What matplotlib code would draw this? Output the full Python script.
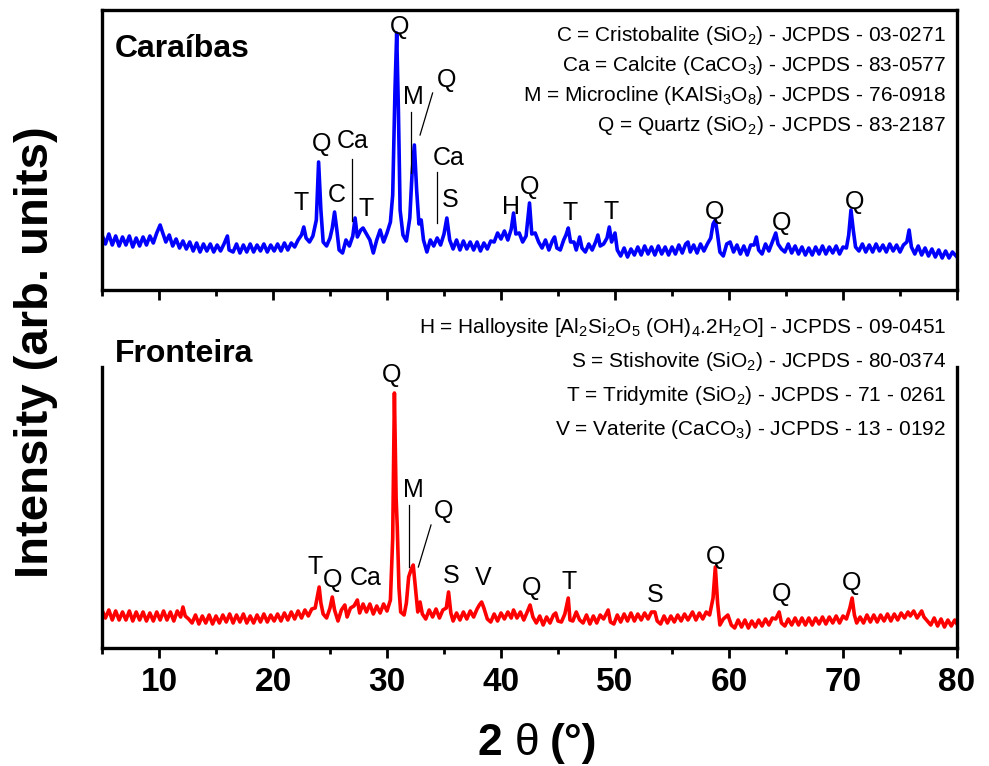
import matplotlib
matplotlib.use("Agg")
import matplotlib.pyplot as plt
from matplotlib.ticker import MultipleLocator

plt.rcParams['font.family'] = ['Liberation Sans', 'DejaVu Sans']
plt.rcParams['mathtext.fontset'] = 'custom'
plt.rcParams['mathtext.rm'] = 'Liberation Sans'
plt.rcParams['mathtext.it'] = 'Liberation Sans:italic'
plt.rcParams['mathtext.bf'] = 'Liberation Sans:bold'

# ---------------- data ----------------
caraibas_x = [5.0, 5.3, 5.6, 5.9, 6.2, 6.5, 6.8, 7.1, 7.4, 7.7, 8.0, 8.3, 8.6, 8.9, 9.2, 9.5, 9.8, 10.1, 10.3, 10.6,
              10.9, 11.2, 11.5, 11.8, 12.1, 12.4, 12.7, 13.0, 13.3, 13.6, 13.9, 14.2, 14.5, 14.8, 15.1, 15.4, 15.7, 16.0, 16.15, 16.5,
              16.8, 17.1, 17.4, 17.7, 18.0, 18.3, 18.6, 18.9, 19.2, 19.5, 19.8, 20.1, 20.4, 20.7, 21.0, 21.3, 21.6, 21.9, 22.2, 22.5,
              22.7, 22.9, 23.2, 23.5, 23.8, 24.0, 24.2, 24.4, 24.7, 25.0, 25.2, 25.4, 25.6, 25.8, 26.1, 26.4, 26.7, 27.0, 27.2, 27.4,
              27.7, 27.9, 28.2, 28.5, 28.8, 29.1, 29.4, 29.7, 30.0, 30.3, 30.5, 30.7, 30.85, 31.0, 31.15, 31.4, 31.7, 32.0, 32.2, 32.4,
              32.6, 32.8, 33.0, 33.2, 33.5, 33.8, 34.1, 34.4, 34.7, 35.0, 35.25, 35.5, 35.8, 36.1, 36.4, 36.7, 37.0, 37.3, 37.6, 37.9,
              38.2, 38.5, 38.8, 39.1, 39.4, 39.7, 40.0, 40.3, 40.6, 40.9, 41.1, 41.3, 41.6, 41.9, 42.2, 42.5, 42.7, 43.0, 43.3, 43.6,
              43.9, 44.2, 44.5, 44.7, 44.9, 45.2, 45.5, 45.7, 45.9, 46.1, 46.4, 46.6, 46.9, 47.1, 47.4, 47.7, 48.0, 48.3, 48.5, 48.7,
              49.0, 49.3, 49.5, 49.7, 50.0, 50.2, 50.5, 50.8, 51.1, 51.4, 51.7, 52.0, 52.3, 52.6, 52.9, 53.2, 53.5, 53.8, 54.1, 54.4,
              54.7, 55.0, 55.3, 55.6, 55.9, 56.2, 56.4, 56.6, 56.9, 57.2, 57.5, 57.8, 58.1, 58.4, 58.6, 58.8, 59.0, 59.2, 59.5, 59.8,
              60.1, 60.4, 60.7, 61.0, 61.3, 61.6, 61.9, 62.2, 62.4, 62.6, 62.9, 63.2, 63.5, 63.8, 64.1, 64.3, 64.6, 64.9, 65.2, 65.5,
              65.8, 66.1, 66.4, 66.7, 67.0, 67.3, 67.6, 67.9, 68.2, 68.5, 68.8, 69.1, 69.4, 69.7, 70.0, 70.3, 70.5, 70.7, 70.9, 71.1,
              71.4, 71.7, 72.0, 72.3, 72.6, 72.9, 73.2, 73.5, 73.8, 74.1, 74.4, 74.7, 75.0, 75.3, 75.6, 75.8, 76.0, 76.3, 76.6, 76.9,
              77.2, 77.5, 77.8, 78.1, 78.4, 78.7, 79.0, 79.3, 79.6, 80.0]
caraibas_y = [55, 46, 56, 45, 54, 44, 53, 45, 54, 43, 52, 44, 53, 45, 54, 47, 57, 65, 58, 48,
              55, 44, 51, 42, 49, 41, 48, 39, 47, 38, 46, 39, 46, 38, 45, 39, 46, 54, 40, 38,
              46, 37, 45, 38, 46, 38, 45, 39, 46, 38, 45, 39, 46, 39, 47, 40, 47, 43, 50, 55,
              63, 52, 48, 54, 70, 128, 80, 48, 44, 52, 62, 78, 60, 40, 37, 50, 44, 54, 72, 53,
              60, 62, 56, 50, 37, 50, 60, 48, 57, 68, 95, 200, 257, 180, 80, 55, 49, 72, 117, 145,
              100, 66, 70, 50, 38, 50, 44, 52, 45, 56, 72, 50, 41, 50, 40, 49, 41, 48, 40, 48,
              39, 47, 41, 49, 48, 57, 51, 59, 50, 61, 77, 56, 57, 48, 54, 87, 56, 57, 48, 42,
              50, 40, 49, 53, 42, 40, 50, 55, 62, 48, 48, 40, 53, 42, 38, 46, 40, 48, 55, 44,
              46, 52, 63, 48, 57, 40, 34, 42, 33, 41, 35, 43, 35, 44, 36, 43, 35, 44, 36, 43,
              35, 43, 36, 45, 37, 46, 48, 38, 45, 37, 46, 39, 46, 52, 66, 70, 55, 38, 34, 46,
              48, 38, 45, 36, 44, 35, 45, 45, 53, 40, 36, 46, 39, 48, 57, 46, 41, 38, 46, 37,
              44, 36, 43, 35, 42, 35, 43, 36, 44, 36, 43, 37, 44, 36, 43, 42, 55, 80, 60, 43,
              39, 46, 38, 45, 38, 46, 39, 45, 38, 46, 39, 45, 38, 45, 48, 60, 43, 36, 44, 35,
              42, 34, 41, 33, 40, 32, 39, 32, 38, 33]

fronteira_x = [5.0, 5.3, 5.6, 5.9, 6.2, 6.5, 6.8, 7.1, 7.4, 7.7, 8.0, 8.3, 8.6, 8.9, 9.2, 9.5, 9.8, 10.1, 10.4, 10.7,
               11.0, 11.3, 11.6, 11.9, 12.1, 12.3, 12.6, 12.9, 13.2, 13.5, 13.8, 14.1, 14.4, 14.7, 15.0, 15.3, 15.6, 15.9, 16.2, 16.5,
               16.8, 17.1, 17.4, 17.7, 18.0, 18.3, 18.6, 18.9, 19.2, 19.5, 19.8, 20.1, 20.4, 20.7, 21.0, 21.3, 21.6, 21.9, 22.2, 22.5,
               22.8, 23.1, 23.4, 23.7, 23.9, 24.05, 24.2, 24.4, 24.7, 25.0, 25.2, 25.4, 25.7, 26.0, 26.3, 26.5, 26.8, 27.1, 27.4, 27.6,
               27.9, 28.2, 28.5, 28.8, 29.1, 29.4, 29.7, 30.0, 30.3, 30.5, 30.65, 30.8, 30.9, 31.05, 31.2, 31.5, 31.7, 31.9, 32.1, 32.3,
               32.5, 32.7, 32.9, 33.1, 33.4, 33.7, 34.0, 34.3, 34.6, 34.9, 35.2, 35.4, 35.6, 35.8, 36.1, 36.4, 36.7, 37.0, 37.3, 37.6,
               37.9, 38.1, 38.3, 38.5, 38.8, 39.1, 39.4, 39.7, 40.0, 40.3, 40.6, 40.9, 41.1, 41.4, 41.7, 42.0, 42.3, 42.55, 42.8, 43.1,
               43.4, 43.7, 44.0, 44.3, 44.6, 44.8, 45.0, 45.3, 45.6, 45.9, 46.05, 46.3, 46.6, 46.9, 47.2, 47.5, 47.8, 48.1, 48.4, 48.7,
               49.0, 49.4, 49.6, 49.9, 50.2, 50.5, 50.8, 51.1, 51.4, 51.7, 52.0, 52.3, 52.6, 52.9, 53.2, 53.5, 53.7, 54.0, 54.3, 54.6,
               54.9, 55.2, 55.5, 55.8, 56.1, 56.4, 56.8, 57.1, 57.4, 57.7, 58.0, 58.3, 58.6, 58.8, 59.0, 59.2, 59.5, 59.9, 60.2, 60.5,
               60.8, 61.1, 61.4, 61.7, 62.0, 62.3, 62.6, 62.9, 63.2, 63.5, 63.8, 64.1, 64.4, 64.6, 64.9, 65.2, 65.5, 65.8, 66.1, 66.4,
               66.7, 67.0, 67.3, 67.6, 67.9, 68.2, 68.5, 68.8, 69.1, 69.4, 69.7, 70.0, 70.3, 70.6, 70.8, 71.0, 71.2, 71.5, 71.8, 72.1,
               72.4, 72.7, 73.0, 73.3, 73.6, 73.9, 74.2, 74.5, 74.8, 75.1, 75.4, 75.7, 75.9, 76.2, 76.5, 76.9, 77.1, 77.4, 77.7, 78.0,
               78.3, 78.6, 78.9, 79.2, 79.5, 79.8, 80.0]
fronteira_y = [38, 30, 38, 28, 37, 28, 36, 28, 37, 27, 36, 28, 36, 27, 35, 27, 36, 28, 37, 28,
               36, 27, 37, 31, 41, 32, 29, 25, 33, 24, 32, 25, 33, 24, 32, 25, 33, 26, 34, 25,
               33, 26, 34, 25, 32, 25, 33, 26, 34, 26, 33, 27, 34, 27, 35, 28, 36, 29, 37, 30,
               38, 32, 39, 40, 52, 61, 45, 34, 30, 40, 51, 38, 27, 38, 43, 31, 40, 42, 48, 35,
               44, 36, 44, 34, 42, 35, 44, 37, 48, 110, 255, 150, 121, 60, 36, 33, 45, 71, 78, 83,
               60, 36, 46, 34, 29, 38, 31, 39, 30, 38, 40, 56, 35, 27, 35, 28, 36, 29, 37, 31,
               39, 43, 46, 40, 29, 26, 34, 27, 35, 29, 36, 30, 38, 30, 36, 28, 36, 43, 31, 25,
               32, 23, 31, 25, 33, 35, 27, 26, 34, 50, 28, 27, 36, 28, 25, 33, 24, 32, 25, 33,
               29, 38, 26, 24, 33, 26, 34, 27, 35, 27, 34, 28, 35, 29, 36, 36, 27, 24, 32, 25,
               32, 26, 33, 27, 34, 28, 36, 28, 35, 29, 36, 33, 50, 81, 45, 23, 29, 33, 23, 20,
               28, 21, 28, 20, 27, 21, 28, 22, 29, 23, 30, 29, 36, 25, 22, 29, 23, 30, 23, 30,
               23, 30, 23, 30, 24, 31, 24, 31, 25, 32, 25, 32, 29, 40, 50, 33, 25, 31, 25, 33,
               26, 33, 26, 33, 27, 34, 27, 34, 28, 35, 30, 36, 32, 37, 30, 37, 31, 27, 23, 30,
               22, 29, 21, 28, 22, 28, 24]

# phase labels: (text, 2theta, intensity)
caraibas_labels = [("T", 22.5, 87), ("Q", 24.3, 146), ("C", 25.6, 95), ("Ca", 27.0, 149),
                   ("T", 28.2, 81), ("Q", 31.1, 263), ("M", 32.3, 193), ("Q", 35.2, 210),
                   ("Ca", 35.4, 132), ("S", 35.5, 90), ("H", 40.9, 83), ("Q", 42.5, 103),
                   ("T", 46.1, 77), ("T", 49.7, 78), ("Q", 58.7, 78), ("Q", 64.6, 67),
                   ("Q", 71.0, 88)]
# marker lines: (x0, y0, x1, y1)
caraibas_marks = [(26.9, 131, 26.9, 69), (32.1, 178, 32.1, 117), (34.0, 197, 32.9, 155),
                  (34.4, 118, 34.4, 67)]

fronteira_labels = [("Q", 30.4, 273), ("M", 32.3, 158), ("Q", 35.0, 137), ("T", 23.7, 81),
                    ("Q", 25.2, 68), ("Ca", 28.1, 70), ("S", 35.6, 72), ("V", 38.45, 70),
                    ("Q", 42.7, 60), ("T", 45.96, 66), ("S", 53.5, 53), ("Q", 58.8, 91),
                    ("Q", 64.6, 54), ("Q", 70.75, 65)]
fronteira_marks = [(31.95, 143, 31.95, 81), (33.86, 123, 32.75, 81)]

legend_top = [r"C = Cristobalite (SiO$_2$) - JCPDS - 03-0271",
              r"Ca = Calcite (CaCO$_3$) - JCPDS - 83-0577",
              r"M = Microcline (KAlSi$_3$O$_8$) - JCPDS - 76-0918",
              r"Q = Quartz (SiO$_2$) - JCPDS - 83-2187"]
legend_bottom = [r"H = Halloysite [Al$_2$Si$_2$O$_5$ (OH)$_4$.2H$_2$O] - JCPDS - 09-0451",
                 r"S = Stishovite (SiO$_2$) - JCPDS - 80-0374",
                 r"T = Tridymite (SiO$_2$) - JCPDS - 71 - 0261",
                 r"V = Vaterite (CaCO$_3$) - JCPDS - 13 - 0192"]

xticks = [10, 20, 30, 40, 50, 60, 70, 80]

assert len(caraibas_x) == len(caraibas_y)
assert len(fronteira_x) == len(fronteira_y)

# ---------------- figure ----------------
W, H = 989, 766
fig = plt.figure(figsize=(W / 100, H / 100), dpi=100)

def fx(px):
    return px / W

def fy(py):
    return 1 - py / H

ax1 = fig.add_axes([fx(102), fy(290), fx(957) - fx(102), fy(10) - fy(290)])
ax2 = fig.add_axes([fx(102), fy(648), fx(957) - fx(102), fy(367) - fy(648)])

ax1.plot(caraibas_x, caraibas_y, color='#0000FF', lw=2.6, solid_joinstyle='round')
ax2.plot(fronteira_x, fronteira_y, color='#FF0000', lw=2.6, solid_joinstyle='round')

ax1.set_ylim(0, 280)
ax2.set_ylim(0, 281)
for ax in (ax1, ax2):
    ax.set_xlim(5, 80)
    ax.xaxis.set_major_locator(MultipleLocator(10))
    ax.xaxis.set_minor_locator(MultipleLocator(5))
    ax.set_yticks([])
    for s in ax.spines.values():
        s.set_linewidth(2.4)
    ax.tick_params(axis='x', which='major', direction='out', length=7.5, width=2.0,
                   labelsize=24, pad=6)
    ax.tick_params(axis='x', which='minor', direction='out', length=4, width=2.0)
ax2.spines['top'].set_visible(False)
ax1.tick_params(axis='x', labelbottom=False)
ax2.set_xticks(xticks)
for lab in ax2.get_xticklabels():
    lab.set_fontweight('bold')

for t, x, y in caraibas_labels:
    ax1.text(x, y, t, fontsize=18, ha='center', va='center')
for x0, y0, x1, y1 in caraibas_marks:
    ax1.plot([x0, x1], [y0, y1], color='black', lw=0.9)
for t, x, y in fronteira_labels:
    ax2.text(x, y, t, fontsize=18, ha='center', va='center')
for x0, y0, x1, y1 in fronteira_marks:
    ax2.plot([x0, x1], [y0, y1], color='black', lw=0.9)

fig.text(fx(115), fy(57), "Caraíbas", fontsize=23, fontweight='bold', ha='left', va='baseline')
fig.text(fx(115), fy(362), "Fronteira", fontsize=23, fontweight='bold', ha='left', va='baseline')

for i, s in enumerate(legend_top):
    fig.text(fx(946), fy(41 + 30 * i), s, fontsize=15, ha='right', va='baseline')
for i, s in enumerate(legend_bottom):
    fig.text(fx(946), fy(333 + 34 * i), s, fontsize=15, ha='right', va='baseline')

fig.text(fx(36), fy(352), "Intensity (arb. units)", fontsize=34, fontweight='bold',
         rotation=90, ha='center', va='center')
# x-axis title "2 θ (°)" : bold 2, plain θ, bold (°)
fig.text(fx(490), fy(755), "2", fontsize=32, fontweight='bold', ha='center', va='baseline')
fig.text(fx(527), fy(755), "θ", fontsize=32, fontweight='normal', ha='center', va='baseline')
fig.text(fx(573), fy(755), "(°)", fontsize=32, fontweight='bold', ha='center', va='baseline')

fig.savefig("out.png", dpi=100)
